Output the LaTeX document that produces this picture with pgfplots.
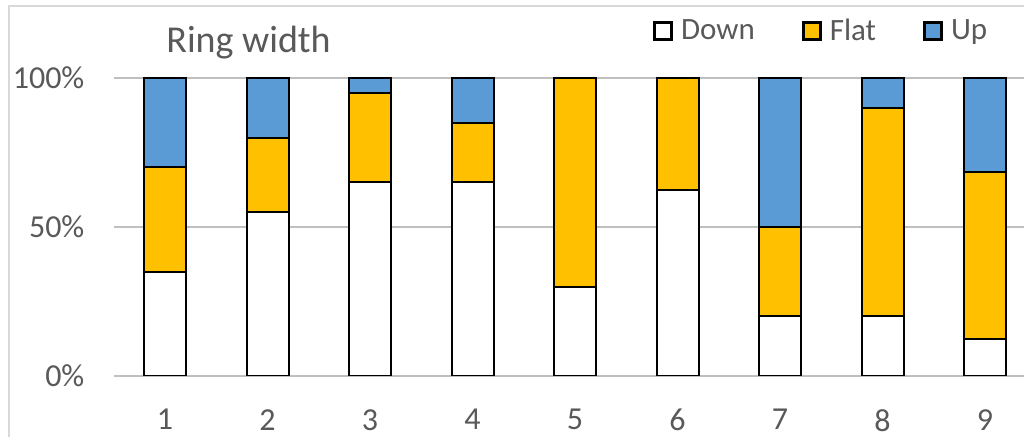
\documentclass[border=0pt]{standalone}
\usepackage{fontspec}
\setmainfont{Carlito}
\usepackage{pgfplots}
\usepackage{pgfplotstable}
\pgfplotsset{compat=1.18}
\definecolor{txt}{RGB}{89,89,89}
\definecolor{grid}{RGB}{217,217,217}
\definecolor{gold}{RGB}{255,192,0}
\definecolor{blu}{RGB}{91,155,213}
\pgfplotstableread{
x Down Flat Up
1 35 35 30
2 55 25 20
3 65 30 5
4 65 20 15
5 30 70 0
6 62.5 37.5 0
7 20 30 50
8 20 70 10
9 12.5 56 31.5
}\data
\begin{document}
\begin{tikzpicture}[x=0.5pt,y=0.5pt]
\draw[grid,line width=1pt] (9,0) -- (9,431) -- (1030,431);
\node[anchor=west,inner sep=0pt,text=txt,font=\fontsize{19}{22}\selectfont] at (166,394) {Ring width};
\begin{axis}[
  at={(56.875pt,30.5pt)}, anchor=south west,
  scale only axis, width=461.25pt, height=149pt,
  ybar stacked, bar width=21pt,
  xmin=0.5, xmax=9.5, ymin=0, ymax=100,
  xtick={1,...,9}, ytick={0,50,100},
  yticklabels={0\%,50\%,100\%},
  axis line style={draw=none},
  major tick length=0pt,
  ymajorgrids, grid style={grid,line width=1pt},
  tick label style={text=txt,font=\fontsize{16}{18}\selectfont,inner sep=0pt},
  /pgf/number format/assume math mode=true,
  yticklabel style={anchor=east,xshift=-14.5pt},
  xticklabel style={anchor=north,yshift=-16.5pt},
  legend columns=3,
  legend style={draw=none,fill=none,inner sep=0pt,outer sep=0pt,
    at={(0.5846,1.158)},anchor=west,text=txt,font=\fontsize{15.5}{18}\selectfont,
    /tikz/every odd column/.append style={column sep=2pt},
    /tikz/every even column/.append style={column sep=21.5pt}},
  legend image code/.code={\draw[#1,line width=1pt,black] (0pt,-4.5pt) rectangle (9pt,4.5pt); \fill[#1] (0.5pt,-4pt) rectangle (8.5pt,4pt);},
]
\addplot[fill=white,draw=black,line width=1pt] table[x=x,y=Down]{\data};
\addplot[fill=gold,draw=black,line width=1pt] table[x=x,y=Flat]{\data};
\addplot[fill=blu,draw=black,line width=1pt] table[x=x,y=Up]{\data};
\legend{Down,Flat,Up}
\end{axis}
\pgfresetboundingbox
\useasboundingbox (0,0) rectangle (1024,437);
\end{tikzpicture}
\end{document}
